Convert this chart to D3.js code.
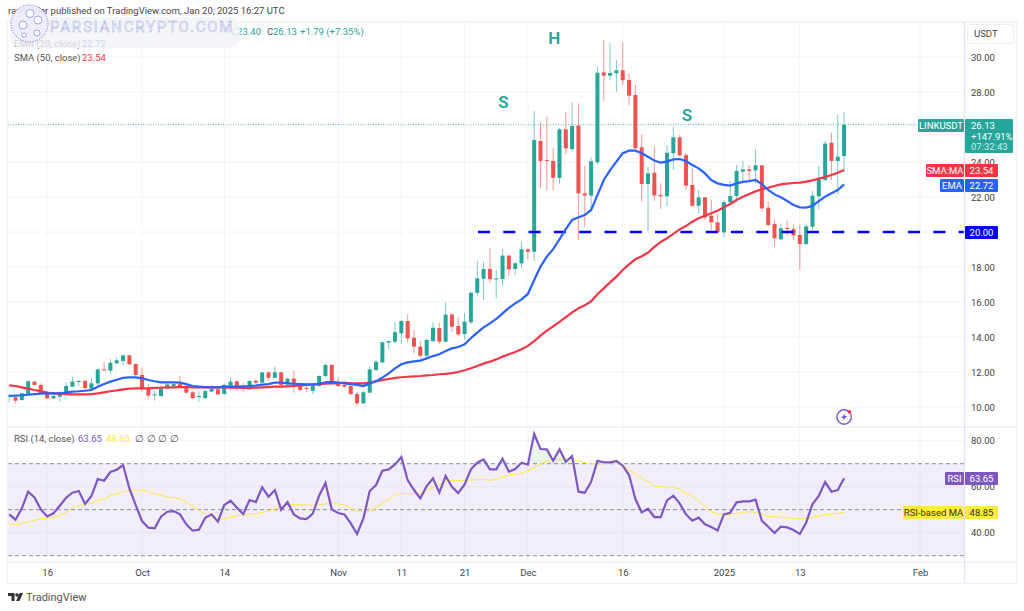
<!DOCTYPE html>
<html>
<head>
<meta charset="utf-8">
<title>LINKUSDT</title>
<script src="https://cdn.jsdelivr.net/npm/d3@7"></script>
<style>
  html, body { margin: 0; padding: 0; background: #fff; }
  svg { display: block; font-family: Roboto, "Liberation Sans", sans-serif; }
  .domain { display: none; }
  .tick line { display: none; }
  .tick text { fill: #3c3f4a; font-size: 9.5px; font-family: Roboto, "Liberation Sans", sans-serif; }
</style>
</head>
<body>
<div id="chart"></div>
<script>
// daily candles, one entry per day starting at firstDay
const firstDay = "2024-09-10";

const opens = [
  10.59,10.55,10.40,10.74,11.45,11.26,10.82,10.49,10.59,10.78,
  11.16,11.43,11.50,11.05,11.35,12.15,12.08,12.49,12.63,12.95,
  12.46,11.83,11.03,10.69,10.63,11.05,11.20,11.31,11.16,10.84,
  10.59,10.51,10.88,11.01,10.74,11.22,11.47,11.24,11.01,11.50,
  11.39,11.98,11.67,11.98,11.29,11.62,11.20,11.09,10.93,11.20,
  11.77,12.40,11.45,11.26,11.20,10.74,10.21,10.82,12.11,12.55,
  13.68,13.73,14.21,14.91,13.96,13.45,12.93,13.77,14.51,13.73,
  15.28,14.63,14.17,14.84,16.53,17.33,17.89,17.29,17.31,18.65,
  17.89,18.21,19.01,18.87,25.20,24.12,24.06,23.09,25.87,24.74,
  26.09,22.21,22.08,23.98,29.12,28.93,29.07,29.24,28.69,27.83,
  24.84,22.74,23.39,22.11,22.04,24.50,25.41,24.40,22.69,21.50,
  21.98,20.93,20.55,19.98,21.71,22.06,23.45,23.58,23.52,23.81,
  21.39,20.46,19.58,20.23,20.17,19.83,19.31,20.30,22.04,22.97,
  25.10,24.06,24.34
];
const highs = [
  10.74,10.59,10.82,11.54,11.47,11.35,10.90,10.88,10.88,11.41,
  11.73,11.54,11.54,11.64,12.21,12.59,12.76,12.84,12.99,12.99,
  12.49,12.25,11.31,10.93,11.26,11.35,11.43,11.77,11.26,10.93,
  10.88,10.97,11.26,11.16,11.31,11.73,11.54,11.35,11.54,11.58,
  12.00,12.02,12.30,12.02,11.66,12.11,11.35,11.26,11.35,11.81,
  12.49,12.46,11.73,11.35,11.26,10.88,10.93,12.34,12.72,13.73,
  13.79,14.84,14.97,15.31,14.40,13.79,13.92,14.82,14.82,15.98,
  15.39,15.16,15.35,16.57,18.36,18.30,19.07,17.83,19.01,18.69,
  18.30,19.45,19.07,26.91,26.27,26.59,24.78,25.96,26.88,27.39,
  27.35,23.77,24.30,29.45,30.97,30.78,29.83,30.84,29.07,28.40,
  25.58,23.73,24.91,22.78,24.97,25.98,25.54,24.50,23.68,22.40,
  22.00,21.83,21.07,21.83,22.91,23.83,24.06,23.83,24.72,23.83,
  21.73,20.72,20.49,20.65,20.40,20.44,20.49,22.36,23.77,25.22,
  25.68,26.69,26.88
];
const lows = [
  10.30,10.21,10.36,10.70,11.24,10.74,10.44,10.46,10.29,10.74,
  11.12,11.20,10.88,10.97,11.20,12.09,11.89,12.46,12.40,12.40,
  11.77,10.88,10.49,10.36,10.59,11.01,11.16,11.12,10.78,10.44,
  10.29,10.47,10.82,10.63,10.70,10.97,10.97,10.88,10.97,11.31,
  11.35,11.54,11.64,11.07,11.26,10.82,10.86,10.86,10.74,11.16,
  11.69,11.35,11.16,11.11,10.69,10.06,10.17,10.78,12.08,12.50,
  13.30,13.64,13.60,13.68,13.07,12.78,12.84,13.71,13.60,13.71,
  14.30,14.06,13.83,14.72,16.34,16.11,17.12,16.19,16.93,17.49,
  17.54,17.92,18.44,18.34,22.53,22.40,22.40,22.74,24.46,24.59,
  19.54,20.30,21.26,23.89,27.50,28.69,28.00,28.40,27.26,24.72,
  21.73,20.02,21.77,21.30,21.45,23.54,24.30,22.40,21.45,21.07,
  20.69,20.11,19.92,19.70,21.64,21.71,22.88,22.88,22.78,21.16,
  20.34,19.16,19.54,19.83,19.54,17.83,19.28,20.11,21.30,22.91,
  22.97,22.17,23.40
];
const closes = [
  10.69,10.36,10.78,11.47,11.26,10.78,10.49,10.63,10.84,11.20,
  11.45,11.49,11.09,11.35,12.15,12.11,12.53,12.67,12.95,12.44,
  11.83,11.07,10.65,10.72,11.07,11.29,11.31,11.16,10.82,10.51,
  10.63,10.91,11.03,10.72,11.26,11.45,11.20,11.03,11.49,11.39,
  11.98,11.67,11.98,11.26,11.62,11.16,10.97,11.05,11.20,11.77,
  12.40,11.39,11.20,11.16,10.74,10.21,10.84,12.15,12.59,13.70,
  13.77,14.27,14.91,13.92,13.45,12.93,13.83,14.53,13.73,15.28,
  14.59,14.15,14.88,16.53,17.35,17.89,17.31,17.35,18.65,17.87,
  18.21,19.01,18.87,25.26,24.06,24.06,23.10,25.87,24.78,26.06,
  22.21,22.08,24.04,29.10,28.93,29.09,29.24,28.67,27.79,24.78,
  22.74,23.35,22.08,22.04,24.53,25.41,24.38,22.65,21.50,21.98,
  20.84,20.55,19.98,21.71,22.06,23.49,23.58,23.49,23.81,21.35,
  20.40,19.64,20.21,20.19,19.81,19.31,20.32,22.08,23.01,25.05,
  24.06,24.30,26.13
];

const ema20 = [
  10.63,10.65,10.67,10.70,10.74,10.76,10.78,10.78,10.78,10.82,
  10.88,10.90,10.93,10.97,11.16,11.31,11.45,11.56,11.66,11.69,
  11.69,11.64,11.54,11.47,11.41,11.41,11.41,11.39,11.31,11.20,
  11.16,11.14,11.12,11.12,11.16,11.16,11.16,11.16,11.20,11.22,
  11.28,11.31,11.39,11.39,11.35,11.33,11.31,11.29,11.29,11.33,
  11.41,11.43,11.39,11.35,11.31,11.26,11.20,11.35,11.47,11.68,
  11.92,12.21,12.44,12.55,12.61,12.65,12.78,12.91,13.01,13.20,
  13.35,13.43,13.58,13.94,14.25,14.55,14.78,15.03,15.35,15.66,
  15.92,16.15,16.46,17.26,18.02,18.59,19.02,19.58,20.17,20.69,
  20.84,20.97,21.26,22.11,22.97,23.54,24.02,24.50,24.65,24.65,
  24.50,24.30,24.08,23.96,24.02,24.15,24.17,24.06,23.83,23.64,
  23.35,22.97,22.78,22.69,22.65,22.78,22.86,22.91,22.97,22.74,
  22.40,22.15,21.98,21.77,21.54,21.41,21.39,21.49,21.77,22.02,
  22.21,22.40,22.72
];
const sma50 = [
  11.24,11.20,11.12,11.05,10.97,10.90,10.82,10.78,10.76,10.74,
  10.72,10.72,10.72,10.74,10.78,10.84,10.90,10.95,11.01,11.05,
  11.07,11.07,11.07,11.09,11.10,11.12,11.12,11.14,11.14,11.12,
  11.12,11.12,11.12,11.12,11.12,11.10,11.10,11.09,11.09,11.10,
  11.12,11.14,11.16,11.16,11.18,11.20,11.22,11.26,11.28,11.31,
  11.33,11.35,11.35,11.39,11.35,11.35,11.35,11.39,11.47,11.54,
  11.60,11.66,11.70,11.73,11.75,11.77,11.81,11.83,11.87,11.89,
  11.94,12.00,12.10,12.21,12.34,12.48,12.59,12.72,12.88,13.01,
  13.14,13.30,13.49,13.77,14.08,14.36,14.61,14.86,15.14,15.41,
  15.64,15.81,16.04,16.44,16.78,17.12,17.45,17.83,18.15,18.44,
  18.61,18.82,19.15,19.43,19.64,19.89,20.15,20.34,20.59,20.78,
  20.93,21.07,21.22,21.41,21.60,21.83,22.02,22.17,22.32,22.44,
  22.53,22.63,22.72,22.76,22.80,22.82,22.88,22.95,23.05,23.14,
  23.26,23.39,23.54
];

const rsi14 = [
  47.97,45.65,50.58,57.83,55.36,50.14,47.10,48.41,51.74,55.22,
  57.39,58.12,52.46,55.94,63.33,62.61,66.38,67.39,69.42,59.28,
  52.03,45.07,42.17,41.88,46.96,49.13,49.42,47.97,43.62,40.87,
  41.30,46.52,47.97,44.78,52.03,53.91,50.87,48.12,54.20,53.33,
  59.71,55.65,58.55,50.00,53.33,47.97,46.23,45.94,48.26,56.09,
  61.59,50.14,48.55,47.97,44.06,39.42,46.23,58.12,60.72,66.96,
  67.54,69.71,72.90,62.90,58.55,54.93,60.29,63.62,57.39,64.64,
  60.00,57.25,61.01,67.54,70.43,71.88,67.54,67.54,72.17,66.52,
  67.68,70.43,69.57,82.90,76.38,76.23,71.30,76.23,70.87,73.33,
  57.83,57.39,62.17,71.16,70.72,70.58,71.16,69.13,65.07,54.64,
  48.84,50.43,46.81,46.81,54.06,56.09,52.75,47.97,45.22,46.52,
  43.62,42.46,41.01,47.97,48.70,53.19,53.62,53.62,54.35,45.22,
  42.61,39.86,42.61,42.32,41.16,39.42,44.35,52.46,55.94,62.03,
  57.83,58.55,63.65
];
const rsiMa = [
  43.77,43.62,43.91,44.64,45.51,45.94,46.23,46.67,47.39,48.84,
  51.01,51.59,52.32,52.90,53.77,54.64,56.09,56.81,57.83,58.41,
  58.70,58.41,57.97,56.81,56.23,55.51,55.22,54.64,53.19,51.30,
  49.71,47.97,46.81,45.65,46.09,46.81,47.39,47.83,48.12,48.26,
  48.84,49.42,50.29,51.30,52.03,52.32,52.17,52.03,51.88,52.03,
  52.61,53.04,52.46,52.03,50.58,49.42,49.13,49.42,50.58,52.75,
  54.64,56.38,56.96,57.10,56.96,57.10,58.55,59.71,60.72,62.61,
  62.75,62.75,62.75,62.90,63.04,63.19,62.75,63.19,64.35,65.07,
  65.51,65.80,66.96,68.26,69.86,71.16,71.88,71.88,72.17,71.88,
  71.16,70.58,70.00,69.86,70.00,70.14,70.43,69.13,67.25,65.80,
  63.62,62.17,60.29,60.00,59.86,59.86,59.00,57.39,55.65,53.91,
  51.59,49.13,48.12,47.83,48.12,48.41,48.84,49.13,48.84,48.12,
  47.25,46.96,46.67,46.52,46.23,45.94,46.23,46.67,47.25,47.83,
  48.12,48.41,48.85
];

// tick labels
const priceTicks = [10, 12, 14, 16, 18, 20, 22, 24, 26, 28, 30];
const rsiTicks = [40, 60, 80];
const rsiLevels = [30, 50, 70];
const timeTicks = ["2024-09-16", "2024-10-01", "2024-10-14", "2024-11-01", "2024-11-11", "2024-11-21", "2024-12-01", "2024-12-16", "2025-01-01", "2025-01-13", "2025-02-01"];
const timeLabels = ["16", "Oct", "14", "Nov", "11", "21", "Dec", "16", "2025", "13", "Feb"];
const supportLevel = 20;

// head and shoulders marks
const patternLabels = ["S", "H", "S"];
const patternDates = ["2024-11-27", "2024-12-05", "2024-12-26"];
const patternPrices = [27.07, 30.76, 26.35];

const parseDay = d3.utcParse("%Y-%m-%d");
const days = closes.map((c, i) => d3.utcDay.offset(parseDay(firstDay), i));
const teal = "#26a69a", red = "#ef5350", gridColor = "#f3f4f7", textColor = "#3c3f4a";

const width = 1024, height = 611;
const svg = d3.select("#chart").append("svg").attr("width", width).attr("height", height);

const left = 8, right = 964;
const mainTop = 23, mainBottom = 427, rsiBottom = 562, axisBottom = 583;

const x = d3.scaleUtc().domain([parseDay(firstDay), parseDay("2025-02-01")]).range([9.2, 920]);
const y = d3.scaleLinear().domain([10, 30]).range([407, 57]);
const yRsi = d3.scaleLinear().domain([30, 70]).range([555.7, 463.7]);

const defs = svg.append("defs");
defs.append("clipPath").attr("id", "mainClip").append("rect").attr("x", left).attr("y", mainTop).attr("width", right - left).attr("height", mainBottom - mainTop);
defs.append("clipPath").attr("id", "rsiClip").append("rect").attr("x", left).attr("y", mainBottom).attr("width", right - left).attr("height", rsiBottom - mainBottom);
defs.append("clipPath").attr("id", "overClip").append("rect").attr("x", left).attr("y", mainBottom).attr("width", right - left).attr("height", yRsi(70) - mainBottom);
const grad = defs.append("linearGradient").attr("id", "overFill").attr("x1", 0).attr("x2", 0).attr("y1", 0).attr("y2", 1);
grad.append("stop").attr("offset", "0%").attr("stop-color", "#4caf50").attr("stop-opacity", 0.05);
grad.append("stop").attr("offset", "100%").attr("stop-color", "#4caf50").attr("stop-opacity", 0.4);

/* Grid */
const grid = svg.append("g").attr("stroke", gridColor).attr("stroke-width", 1);
grid.selectAll(".h").data(priceTicks).enter().append("line")
  .attr("x1", left).attr("x2", right).attr("y1", d => y(d)).attr("y2", d => y(d));
grid.selectAll(".r").data(rsiTicks).enter().append("line")
  .attr("x1", left).attr("x2", right).attr("y1", d => yRsi(d)).attr("y2", d => yRsi(d));
grid.selectAll(".v").data(timeTicks).enter().append("line")
  .attr("x1", d => x(parseDay(d))).attr("x2", d => x(parseDay(d))).attr("y1", mainTop).attr("y2", rsiBottom);

/* Candles */
const candles = svg.append("g").attr("clip-path", "url(#mainClip)");
const candle = candles.selectAll("g").data(days).enter().append("g");
candle.append("line")
  .attr("x1", d => x(d)).attr("x2", d => x(d))
  .attr("y1", (d, i) => y(highs[i])).attr("y2", (d, i) => y(lows[i]))
  .attr("stroke", (d, i) => closes[i] >= opens[i] ? teal : red)
  .attr("stroke-opacity", 0.6);
candle.append("rect")
  .attr("x", d => x(d) - 2).attr("width", 4)
  .attr("y", (d, i) => y(Math.max(opens[i], closes[i])))
  .attr("height", (d, i) => Math.max(1, Math.abs(y(opens[i]) - y(closes[i]))))
  .attr("fill", (d, i) => closes[i] >= opens[i] ? teal : red);

/* Support line and last price line */
svg.append("line").attr("x1", 478).attr("x2", right).attr("y1", y(supportLevel)).attr("y2", y(supportLevel))
  .attr("stroke", "#0000ff").attr("stroke-width", 2.6).attr("stroke-dasharray", "12 13.3");
svg.append("line").attr("x1", left).attr("x2", 918).attr("y1", y(closes[132])).attr("y2", y(closes[132]))
  .attr("stroke", teal).attr("stroke-dasharray", "1 1.5").attr("stroke-opacity", 0.8);

/* Moving averages */
const priceLine = d3.line().x((d, i) => x(days[i])).y(d => y(d));
const averages = svg.append("g").attr("clip-path", "url(#mainClip)").attr("fill", "none").attr("stroke-width", 2.2);
averages.append("path").attr("d", priceLine(sma50)).attr("stroke", "#f23645");
averages.append("path").attr("d", priceLine(ema20)).attr("stroke", "#2962ff");

/* RSI pane */
const rsiPane = svg.append("g");
rsiPane.append("rect").attr("x", left).attr("width", right - left)
  .attr("y", yRsi(70)).attr("height", yRsi(30) - yRsi(70)).attr("fill", "#7e57c2").attr("fill-opacity", 0.1);
rsiPane.selectAll(".lvl").data(rsiLevels).enter().append("line")
  .attr("x1", left).attr("x2", right).attr("y1", d => yRsi(d)).attr("y2", d => yRsi(d))
  .attr("stroke", "#8a8d97").attr("stroke-dasharray", "4 3");
const overArea = d3.area().x((d, i) => x(days[i])).y0(yRsi(70)).y1(d => yRsi(d));
rsiPane.append("path").attr("d", overArea(rsi14)).attr("clip-path", "url(#overClip)").attr("fill", "url(#overFill)");
const rsiLine = d3.line().x((d, i) => x(days[i])).y(d => yRsi(d));
const rsiLines = rsiPane.append("g").attr("clip-path", "url(#rsiClip)").attr("fill", "none");
rsiLines.append("path").attr("d", rsiLine(rsiMa)).attr("stroke", "#ffeb3b").attr("stroke-width", 1);
rsiLines.append("path").attr("d", rsiLine(rsi14)).attr("stroke", "#7e57c2").attr("stroke-width", 2.2);

/* Frame */
const frame = svg.append("g").attr("stroke", "#eef0f6").attr("stroke-width", 1.5).attr("fill", "none");
frame.append("rect").attr("x", 7.5).attr("y", 22).attr("width", 1009).attr("height", axisBottom - 22 + 0.5);
frame.append("line").attr("x1", 7.5).attr("x2", 1016).attr("y1", mainBottom).attr("y2", mainBottom);
frame.append("line").attr("x1", 7.5).attr("x2", 1016).attr("y1", rsiBottom).attr("y2", rsiBottom);
frame.append("line").attr("x1", right + 0.5).attr("x2", right + 0.5).attr("y1", 22).attr("y2", axisBottom).attr("stroke", "#e3e5f2");

/* Axes */
svg.append("g").attr("transform", "translate(964,0)")
  .call(d3.axisRight(y).tickValues(priceTicks).tickSize(0).tickPadding(7).tickFormat(d3.format(".2f")));
svg.append("g").attr("transform", "translate(964,0)")
  .call(d3.axisRight(yRsi).tickValues(rsiTicks).tickSize(0).tickPadding(7).tickFormat(d3.format(".2f")));
svg.append("g").attr("transform", `translate(0,${rsiBottom + 4})`)
  .call(d3.axisBottom(x).tickValues(timeTicks.map(parseDay)).tickSize(0).tickPadding(3).tickFormat((d, i) => timeLabels[i]));

/* Head and shoulders labels */
svg.append("g").selectAll("text").data(patternLabels).enter().append("text")
  .attr("x", (d, i) => x(parseDay(patternDates[i])) + 1)
  .attr("y", (d, i) => y(patternPrices[i]))
  .attr("text-anchor", "middle").attr("fill", teal)
  .attr("font-size", 17).attr("font-weight", 600)
  .text(d => d);

/* Legends */
function label(px, py, txt, color, size) {
  return svg.append("text").attr("x", px).attr("y", py).attr("fill", color).attr("font-size", size || 9.5).text(txt);
}
label(8, 14, "rawtrader published on TradingView.com, Jan 20, 2025 16:27 UTC", "#444", 9.5);
label(232, 35, "L23.40", teal);
label(267, 35, "C", "#555");
label(273, 35, "26.13", teal);
label(300, 35, "+1.79 (+7.35%)", teal);
label(14, 47, "EMA (20, close)", "#555");
label(82, 47, "22.72", "#2962ff");
label(14, 61, "SMA (50, close)", "#555");
label(82, 61, "23.54", "#f23645");
label(14, 442, "RSI (14, close)", "#555");
label(78, 442, "63.65", "#7e57c2");
label(106, 442, "48.85", "#ffeb3b");
label(135, 442, "∅", "#555");
label(147, 442, "∅", "#555");
label(158, 442, "∅", "#555");
label(170, 442, "∅", "#555");

/* Price tags on the axis */
function tag(x0, x1, y0, y1, fill, txt, color) {
  svg.append("rect").attr("x", x0).attr("y", y0).attr("width", x1 - x0).attr("height", y1 - y0).attr("rx", 1).attr("fill", fill);
  svg.append("text").attr("x", (x0 + x1) / 2).attr("y", (y0 + y1) / 2 + 3.3).attr("text-anchor", "middle")
    .attr("font-size", 9.5).attr("fill", color || "#fff").text(txt);
}
tag(918, 964, 119, 132, teal, "LINKUSDT");
svg.append("rect").attr("x", 965).attr("y", 119).attr("width", 48).attr("height", 34).attr("rx", 1).attr("fill", teal);
label(971, 129, closes[132].toFixed(2), "#fff");
label(971, 140, "+147.91%", "#fff");
label(971, 150, "07:32:43", "#cfeae7");
tag(926, 964, 164, 177, "#f23645", "SMA:MA");
tag(965, 998, 164, 177, "#f23645", sma50[132].toFixed(2));
tag(940, 964, 179, 192, "#2962ff", "EMA");
tag(965, 998, 179, 192, "#2962ff", ema20[132].toFixed(2));
tag(965, 998, 226, 239, "#0000ff", supportLevel.toFixed(2));
tag(945, 964, 472, 485, "#7e57c2", "RSI");
tag(965, 998, 472, 485, "#7e57c2", rsi14[132].toFixed(2));
tag(903, 964, 506, 519, "#ffeb3b", "RSI-based MA", "#333");
tag(965, 998, 506, 519, "#ffeb3b", rsiMa[132].toFixed(2), "#333");

/* USDT button */
svg.append("rect").attr("x", 967.5).attr("y", 24.5).attr("width", 46).attr("height", 19).attr("rx", 3).attr("fill", "#fff").attr("stroke", "#eceef3");
label(974, 37, "USDT", textColor);

/* Lightning icon */
const bolt = svg.append("g").attr("transform", `translate(${x(days[132])},417)`);
bolt.append("circle").attr("r", 7.2).attr("fill", "#fff").attr("stroke", "#7e57c2").attr("stroke-width", 1.4);
bolt.append("path").attr("d", "M1.5 -4 L-3 1 L-0.5 1 L-1.5 4 L3 -1 L0.5 -1 Z").attr("fill", "#7e57c2");
bolt.append("circle").attr("cx", 5.3).attr("cy", -5.3).attr("r", 1.8).attr("fill", "#f23645");

/* Watermark */
const mark = svg.append("g");
mark.append("rect").attr("x", 10).attr("y", 17).attr("width", 230).attr("height", 31).attr("rx", 10).attr("fill", "#f1f3f6").attr("fill-opacity", 0.8);
mark.append("circle").attr("cx", 29.5).attr("cy", 23.5).attr("r", 18.5).attr("fill", "#eeecf8").attr("fill-opacity", 0.92).attr("stroke", "#6a5fd0").attr("stroke-dasharray", "1 1.5");
const blobs = mark.append("g").attr("fill", "#fff").attr("stroke", "#5f6fd8").attr("stroke-width", 0.6);
blobs.append("circle").attr("cx", 30).attr("cy", 13.5).attr("r", 4);
blobs.append("circle").attr("cx", 23).attr("cy", 25).attr("r", 4);
blobs.append("circle").attr("cx", 38).attr("cy", 20).attr("r", 4);
blobs.append("circle").attr("cx", 37).attr("cy", 33).attr("r", 3);
blobs.append("circle").attr("cx", 24).attr("cy", 35).attr("r", 2.2);
mark.append("text").attr("x", 50).attr("y", 32).attr("font-size", 15).attr("letter-spacing", 1.8)
  .attr("fill", "#f0f2f8").attr("stroke", "#8c9ce0").attr("stroke-width", 0.35).text("PARSIANCRYPTO.COM");

/* TradingView logo */
const logo = svg.append("g").attr("fill", "#333");
logo.append("path").attr("d", "M8 593 H14.5 V601 H11.5 V596 H8 Z");
logo.append("circle").attr("cx", 17).attr("cy", 595).attr("r", 1.8);
logo.append("path").attr("d", "M23 593 L19.5 601 H16.2 L19.6 593 Z");
label(26, 601, "TradingView", "#555", 11);
</script>
</body>
</html>
